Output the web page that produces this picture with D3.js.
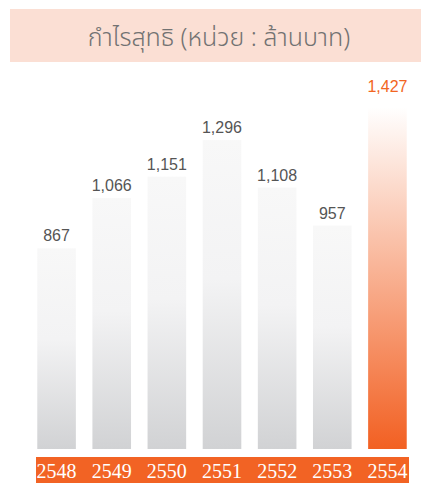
<!DOCTYPE html>
<html>
<head>
<meta charset="utf-8">
<script src="https://cdn.jsdelivr.net/npm/d3@7"></script>
<style>
  html, body { margin: 0; padding: 0; background: #fff; }
</style>
</head>
<body>
<div id="chart"></div>
<script>
// ข้อมูล
const titleText = "กำไรสุทธิ (หน่วย : ล้านบาท)";
const years = ["2548", "2549", "2550", "2551", "2552", "2553", "2554"];
const profits = [867, 1066, 1151, 1296, 1108, 957, 1427];
const highlightYear = "2554";

const width = 422;
const height = 483;

const svg = d3.select("#chart").append("svg")
    .attr("width", width)
    .attr("height", height);

const defs = svg.append("defs");

// gradient แท่งสีเทา
const grayGrad = defs.append("linearGradient")
    .attr("id", "grayGrad")
    .attr("x1", 0).attr("y1", 0).attr("x2", 0).attr("y2", 1);
grayGrad.append("stop").attr("offset", "0%").attr("stop-color", "#f8f8f8");
grayGrad.append("stop").attr("offset", "45%").attr("stop-color", "#f3f3f4");
grayGrad.append("stop").attr("offset", "100%").attr("stop-color", "#d1d2d4");

// gradient แท่งสีส้ม
const orangeGrad = defs.append("linearGradient")
    .attr("id", "orangeGrad")
    .attr("x1", 0).attr("y1", 0).attr("x2", 0).attr("y2", 1);
orangeGrad.append("stop").attr("offset", "0%").attr("stop-color", "#ffffff");
orangeGrad.append("stop").attr("offset", "100%").attr("stop-color", "#f26022");

// กล่องหัวเรื่อง
svg.append("rect")
    .attr("x", 10).attr("y", 9)
    .attr("width", 411).attr("height", 53)
    .attr("fill", "#fbdfd4");

svg.append("text")
    .attr("x", 219).attr("y", 46)
    .attr("text-anchor", "middle")
    .style("font-family", "'Noto Sans Thai', 'Noto Sans', sans-serif")
    .style("font-size", "25px")
    .style("font-weight", 300)
    .attr("fill", "#727272")
    .text(titleText);

// สเกล
const x = d3.scaleBand()
    .domain(years)
    .range([29, 415])
    .paddingInner(0.3)
    .paddingOuter(0.15);

const y = d3.scaleLinear()
    .domain([72, 1427])
    .range([449, 107]);

// แท่ง
svg.selectAll(".bar")
    .data(years)
    .enter()
    .append("rect")
    .attr("class", "bar")
    .attr("x", d => x(d))
    .attr("y", (d, i) => y(profits[i]))
    .attr("width", x.bandwidth())
    .attr("height", (d, i) => 449 - y(profits[i]))
    .attr("fill", d => d === highlightYear ? "url(#orangeGrad)" : "url(#grayGrad)");

// ค่าบนแท่ง
svg.selectAll(".value")
    .data(years)
    .enter()
    .append("text")
    .attr("class", "value")
    .attr("x", d => x(d) + x.bandwidth() / 2)
    .attr("y", (d, i) => y(profits[i]) - (d === highlightYear ? 15 : 7))
    .attr("text-anchor", "middle")
    .style("font-family", "'Liberation Sans', Arial, sans-serif")
    .style("font-size", "16px")
    .attr("fill", d => d === highlightYear ? "#f26522" : "#555555")
    .text((d, i) => d3.format(",")(profits[i]));

// แถบปีด้านล่าง
svg.append("rect")
    .attr("x", 36).attr("y", 457)
    .attr("width", 373).attr("height", 26)
    .attr("fill", "#f26324");

svg.selectAll(".year")
    .data(years)
    .enter()
    .append("text")
    .attr("class", "year")
    .attr("x", d => x(d) + x.bandwidth() / 2)
    .attr("y", 478)
    .attr("text-anchor", "middle")
    .style("font-family", "'Liberation Serif', 'Times New Roman', serif")
    .style("font-size", "20px")
    .attr("fill", "#ffffff")
    .text(d => d);
</script>
</body>
</html>
